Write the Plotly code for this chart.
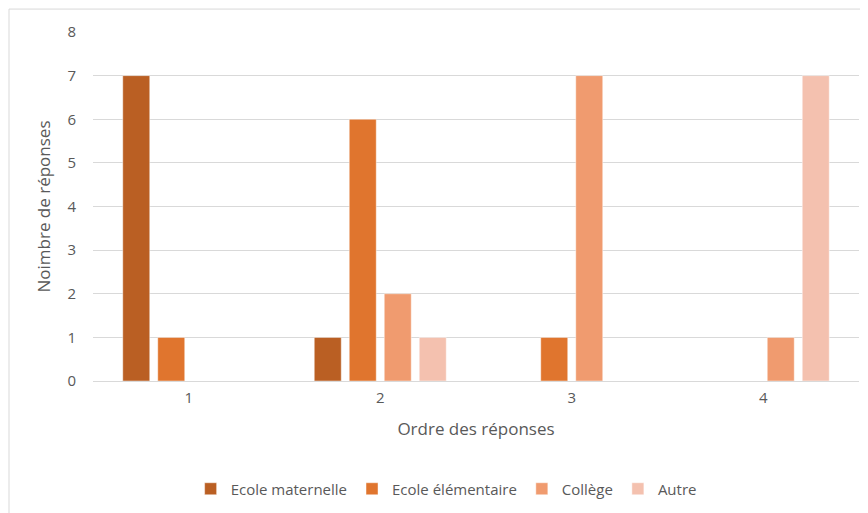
import plotly.graph_objects as go

categories = ["1", "2", "3", "4"]
series_names = ["Ecole maternelle", "Ecole élémentaire", "Collège", "Autre"]
maternelle = [7, 1, 0, 0]
elementaire = [1, 6, 1, 0]
college = [0, 2, 7, 1]
autre = [0, 1, 0, 7]
colors = ["#BA5F23", "#E0752E", "#F09B6F", "#F4C1AF"]

fig = go.Figure()
for name, vals, col in zip(series_names, [maternelle, elementaire, college, autre], colors):
    fig.add_trace(go.Bar(
        x=categories, y=vals, name=name,
        marker=dict(color=col, line=dict(color="rgba(255,255,255,0.6)", width=0.75)),
    ))

# page has an 8px body margin; work in screenshot coords and shift
OFF = 8
W, H = 860, 505
plot_left, plot_right, plot_top, plot_bottom = 93, 859, 32, 382
L = plot_left - OFF
T = plot_top - OFF
R = W - (plot_right - OFF)
B = H - (plot_bottom - OFF)
pw, ph = plot_right - plot_left, plot_bottom - plot_top

def px_x(p):
    return (p - plot_left) / pw

def px_y(p):
    return (plot_bottom - p) / ph

fig.update_layout(
    width=W, height=H,
    margin=dict(l=L, r=R, t=T, b=B),
    paper_bgcolor="white", plot_bgcolor="white",
    font=dict(family="Open Sans", color="#595959", size=15),
    barmode="group", bargap=0.269, bargroupgap=0.229,
    showlegend=True,
    legend=dict(orientation="h", x=0.461, xanchor="center", y=px_y(489), yanchor="middle",
                font=dict(size=15, color="#595959"), itemwidth=30, traceorder="normal"),
    xaxis=dict(showgrid=False, showline=True, linecolor="#D9D9D9", linewidth=1,
               ticks="", tickfont=dict(size=15), ticklabelstandoff=3,
               title=dict(text="Ordre des réponses", font=dict(size=17), standoff=17)),
    yaxis=dict(range=[0, 8], dtick=1, showgrid=True, gridcolor="#D9D9D9", gridwidth=1,
               zeroline=True, zerolinecolor="#D9D9D9", zerolinewidth=1,
               showline=False, ticks="", ticklabelstandoff=16, tickfont=dict(size=15),
               title=dict(text="Noimbre de réponses", font=dict(size=17), standoff=12)),
    shapes=[dict(type="rect", xref="paper", yref="paper",
                 x0=px_x(9), x1=px_x(880), y0=px_y(530), y1=px_y(9),
                 line=dict(color="#D9D9D9", width=1), fillcolor="rgba(0,0,0,0)", layer="below")],
)

fig.write_html("out.html")
